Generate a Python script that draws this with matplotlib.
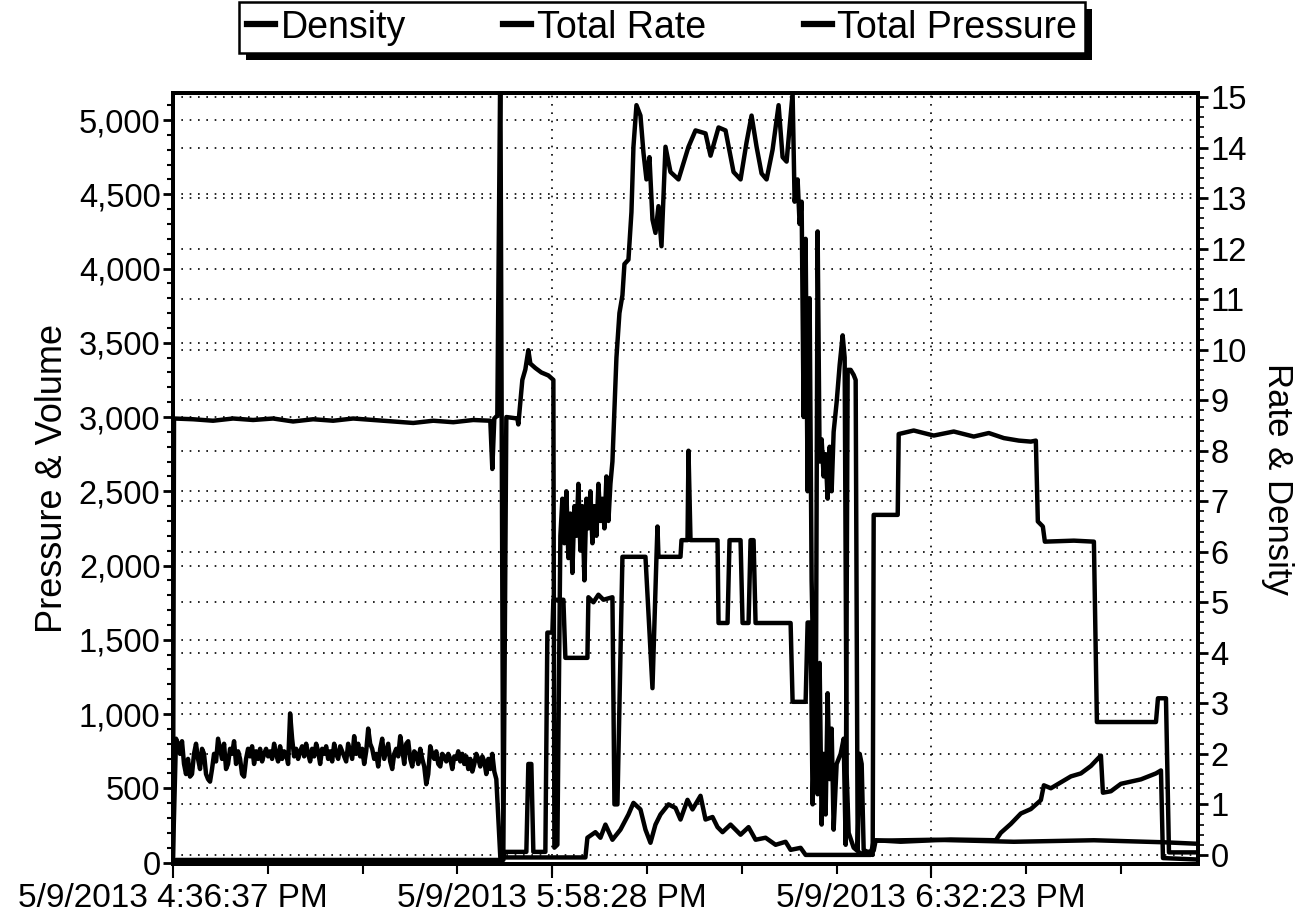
import numpy as np
import matplotlib.pyplot as plt
from matplotlib.ticker import FuncFormatter, MultipleLocator
from matplotlib.patches import Rectangle
from matplotlib.transforms import IdentityTransform

plt.rcParams['font.family'] = ['Liberation Sans', 'DejaVu Sans']

# sample index along the job (category axis of the logger)
x_ticks = [0, 379, 757]
x_labels = ["5/9/2013 4:36:37 PM", "5/9/2013 5:58:28 PM", "5/9/2013 6:32:23 PM"]

# Total Pressure (psi, left axis)
pres_t = [0, 1, 20, 40, 60, 80, 100, 120, 140, 160, 180, 200, 220, 240, 260, 280, 300, 317,
          319, 321, 324, 327, 330, 333, 344, 345, 349, 352, 355, 357, 362, 368, 375, 380, 381, 384,
          387, 389, 391, 393, 395, 397, 399, 401, 403, 405, 407, 409, 411, 413, 415, 417, 419, 421,
          423, 425, 427, 429, 431, 433, 435, 437,
          439, 441, 443, 446, 449, 451, 455, 458, 460, 463, 467, 470, 473, 476, 479, 482, 485, 488,
          492, 497, 505, 515, 522, 532, 537, 545, 552, 560, 567, 573, 578, 583, 588, 593, 599, 605,
          609, 613, 616, 619, 621, 624, 626, 628, 630, 632, 634, 636, 638, 640, 642, 644, 646, 648,
          650, 652, 654, 656, 658, 660, 663, 666, 669, 671, 673, 675, 680, 687, 700, 702, 727, 777,
          822, 827, 837, 847, 857, 867, 870, 877, 887, 897, 907, 917, 924, 927, 929, 937, 947, 967,
          982, 987, 989, 1024]
pres_v = [0, 2990, 2985, 2975, 2990, 2980, 2990, 2970, 2985, 2975, 2990, 2980, 2970, 2960, 2975,
          2965, 2980, 2975, 2650, 2990, 3010, 5400, 40, 3000, 2990, 2950, 3250, 3320, 3450, 3360,
          3330, 3300, 3280, 3250, 100, 120,
          2200, 2450, 2150, 2500, 2050, 2350, 1950, 2400, 2200, 2550, 2100, 2400, 1900, 2450, 2250,
          2500, 2150, 2400, 2200, 2550, 2300, 2450, 2250, 2600, 2300, 2550,
          2700, 3050, 3400, 3700, 3820, 4030, 4060, 4380, 4820, 5100, 5030, 4780, 4600, 4750, 4330,
          4240, 4420, 4150, 4820, 4650, 4600, 4820, 4930, 4910, 4760, 4950, 4930, 4650, 4600, 4850,
          5030, 4820, 4640, 4600, 4800, 5100, 4750, 4720, 4950, 5180, 4450, 4600, 4300, 4450, 3000,
          4200, 2500, 3800, 1900, 1200, 600, 4250, 2700, 2850, 2600, 2750, 2450, 2800, 2500, 2900,
          3100, 3350, 3550, 3400, 600, 200, 100, 60, 80, 150, 140, 155,
          150, 200, 260, 330, 360, 420, 520, 500, 540, 580, 600, 650, 700, 720, 470, 480, 530, 560,
          600, 620, 30, 20]

# Total Rate (bpm, right axis)
rate_t = [0, 330, 331, 353, 355, 358, 360, 372, 374, 379, 380, 390, 392, 414, 415, 420, 425, 430,
          439, 441, 444, 449, 472, 479, 483, 484, 485, 507, 508, 514, 515, 517, 544, 545, 554, 556,
          567, 569, 575, 577, 580, 582, 617, 619, 632, 634, 637, 639, 642, 644, 646, 648, 650, 652,
          654, 656, 658, 660, 663, 667, 670, 672, 674, 677, 680, 682, 684, 686, 688, 690, 699, 700,
          724, 725, 740, 760, 780, 800, 815, 830, 845, 857, 862, 864, 869, 871, 900, 920, 923, 982,
          984, 992, 995, 1024]
rate_v = [-0.1, -0.1, 0.06, 0.06, 1.8, 1.8, 0.06, 0.06, 4.4, 4.4, 5.05, 5.05, 3.9, 3.9, 5.1, 5.0,
          5.15, 5.05, 5.1, 1.0, 1.0, 5.9, 5.9, 3.3, 5.9, 6.5, 5.9, 5.9, 6.23, 6.23, 8.0, 6.23, 6.23,
          4.59, 4.59, 6.23, 6.23, 4.59, 4.59, 6.23, 6.23, 4.59, 4.59, 3.03, 3.03, 4.6, 4.6, 1.0, 3.5,
          1.2, 3.8, 0.6, 2.0, 0.8, 3.2, 1.5, 2.5, 0.5, 1.8, 2.0, 2.3, 0.2, 9.6, 9.6, 9.5, 9.4, 0.1,
          2.0, 1.8, 0.1, 0.0, 6.73, 6.73, 8.33, 8.4, 8.3, 8.38, 8.28, 8.35, 8.25, 8.2, 8.18, 8.2, 6.6,
          6.5, 6.2, 6.22, 6.2, 2.63, 2.63, 3.1, 3.1, 0.05, 0.05]

# Density (right axis): noisy reading before the job, one value every 2 samples
dens_pre = [2.3, 2.2, 2.0, 2.25, 1.8, 1.6, 1.9, 1.55, 1.6, 2.0, 2.2, 1.9, 1.7, 2.1, 2.0, 1.6,
            1.5, 1.45, 1.7, 2.0, 1.85, 2.3, 2.1, 1.9, 2.2, 1.7, 1.8, 2.1, 2.0, 2.25,
            1.8, 2.05, 1.9, 1.6, 1.55, 1.9, 2.1, 1.95, 2.15, 1.8, 2.05, 1.9, 2.1, 1.85, 2.0, 2.1,
            1.95, 2.05, 1.9, 2.2, 2.0, 1.85, 2.15, 1.9, 2.05, 2.0, 1.8, 2.8, 2.3, 1.95,
            2.1, 1.9, 2.05, 2.15, 1.95, 2.2, 2.0, 1.85, 2.1, 1.95, 2.2, 2.05, 1.8, 2.1, 2.0, 2.15,
            1.9, 2.05, 1.85, 2.2, 2.0, 1.9, 2.15, 2.05, 1.95, 1.85, 2.2, 2.05, 1.9, 2.35,
            2.0, 2.2, 1.95, 2.1, 1.8, 2.05, 2.5, 2.2, 2.1, 1.9, 2.0, 1.75, 2.1, 2.3, 1.9, 2.05,
            2.2, 1.85, 1.7, 2.0, 2.1, 1.95, 2.35, 2.1, 1.8, 2.2, 2.25, 1.9, 1.75, 2.05,
            2.0, 1.8, 2.1, 1.9, 1.75, 1.4, 1.6, 2.15, 2.0, 1.9, 2.05, 1.8, 1.75, 2.0, 1.95, 1.85,
            2.0, 1.9, 1.7, 1.95, 1.9, 2.05, 1.85, 2.0, 1.8, 1.95, 1.7, 1.9, 1.65, 1.8,
            2.0, 1.9, 1.75, 1.95, 1.85, 1.6, 1.9, 1.7, 2.0, 1.65]
dens_t = [0] + list(3 + 2 * np.arange(len(dens_pre))) + \
         [323, 327, 412, 414, 422, 427, 432, 439, 447, 455, 460, 467, 472, 477, 482, 487, 495, 502,
          507, 514, 519, 527, 532, 539, 544, 549, 557, 567, 575, 582, 592, 602, 612, 617, 627, 632,
          697, 700, 760, 840, 920, 990, 1024]
dens_v = [0] + dens_pre + \
         [1.5, -0.05, -0.05, 0.34, 0.45, 0.34, 0.6, 0.3, 0.5, 0.8, 1.03, 0.9, 0.5, 0.24, 0.6, 0.8,
          1.0, 0.93, 0.7, 1.09, 0.9, 1.17, 0.7, 0.75, 0.55, 0.45, 0.6, 0.4, 0.55, 0.3, 0.34, 0.2,
          0.26, 0.1, 0.14, 0.0, 0.0, 0.28, 0.3, 0.26, 0.29, 0.25, 0.22]

fig = plt.figure(figsize=(12.96, 9.23), dpi=100)
ax = fig.add_axes([173 / 1296, 1 - 864 / 923, 1025 / 1296, 771 / 923])
ax2 = ax.twinx()

lw = 3.2
l1, = ax2.plot(dens_t, dens_v, color='black', lw=lw, label='Density')
l2, = ax2.plot(rate_t, rate_v, color='black', lw=lw, label='Total Rate')
l3, = ax.plot(pres_t, pres_v, color='black', lw=lw, label='Total Pressure')

ax.set_xlim(0, 1024)
ax.set_ylim(-10, 5182)
ax2.set_ylim(-0.18, 15.08)

ax.set_xticks(x_ticks)
ax.set_xticklabels(x_labels, fontsize=24)
ax.xaxis.set_minor_locator(MultipleLocator(94.7))
ax.set_yticks(np.arange(0, 5001, 500))
ax.yaxis.set_major_formatter(FuncFormatter(lambda v, p: f"{v:,.0f}"))
ax.yaxis.set_minor_locator(MultipleLocator(100))
ax2.set_yticks(np.arange(0, 16, 1))
ax2.yaxis.set_minor_locator(MultipleLocator(0.2))

ax.tick_params(axis='y', which='major', labelsize=23.5, length=7, width=2, pad=2)
ax.tick_params(axis='y', which='minor', length=4, width=1.5)
ax.tick_params(axis='x', which='major', length=10, width=1.5, pad=4)
ax.tick_params(axis='x', which='minor', length=7, width=1.5)
ax2.tick_params(axis='y', which='major', labelsize=23.5, length=7, width=2, pad=2)
ax2.tick_params(axis='y', which='minor', length=4, width=1.2)

grid_kw = dict(color='black', linestyle=(0, (1, 4)), linewidth=1.2)
ax.grid(True, axis='both', which='major', **grid_kw)
ax2.grid(True, axis='y', which='major', **grid_kw)

for a in (ax, ax2):
    for s in a.spines.values():
        s.set_linewidth(2.8)

ax.set_ylabel('Pressure & Volume', fontsize=26, labelpad=6)
ax2.set_ylabel('Rate & Density', fontsize=25, rotation=270, va='bottom', labelpad=10)

leg = fig.legend([l1, l2, l3], ['Density', 'Total Rate', 'Total Pressure'],
                 loc='upper center', bbox_to_anchor=(662 / 1296, 1 - 2 / 923), ncol=3,
                 fontsize=27, frameon=True, fancybox=False, edgecolor='black',
                 facecolor='white', framealpha=1,
                 handlelength=0.75, handletextpad=0.15, columnspacing=2.6, borderpad=0.2,
                 borderaxespad=0)
leg.get_frame().set_linewidth(1.8)
for h in leg.get_lines():
    h.set_linewidth(4.5)

# drop shadow under the legend box
fig.canvas.draw()
bb = leg.get_window_extent()
shadow = Rectangle((bb.x0 + 7, bb.y0 - 7), bb.width, bb.height, transform=IdentityTransform(),
                   facecolor='black', edgecolor='none', zorder=leg.get_zorder() - 0.5)
fig.add_artist(shadow)

fig.savefig('out.png', dpi=100)
